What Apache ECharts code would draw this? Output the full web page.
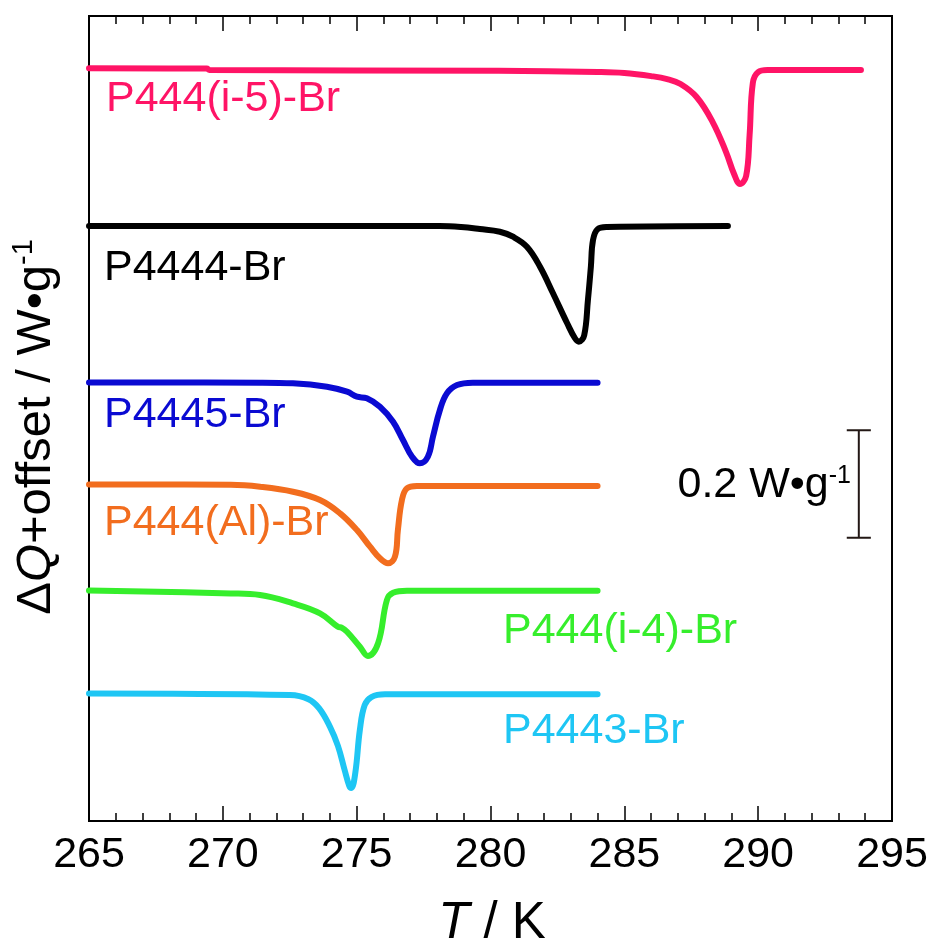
<!DOCTYPE html>
<html>
<head>
<meta charset="utf-8">
<script src="https://cdn.jsdelivr.net/npm/echarts@6/dist/echarts.min.js"></script>
<style>
html,body{margin:0;padding:0;background:#fff;}
#c{width:932px;height:946px;}
</style>
</head>
<body>
<div id="c"></div>
<script>
// ---- data (T in K, ΔQ + offset in W·g^-1) ----
var tI5 = [265, 269.4, 269.5, 280.3, 284.0, 285.0, 286.0, 286.6, 287.1, 287.7, 288.3, 288.8, 289.1, 289.32, 289.55, 289.68, 289.8, 290.0, 290.35, 293.84];
var qI5 = [1.4025, 1.4020, 1.3995, 1.3980, 1.3956, 1.3937, 1.3880, 1.3825, 1.3732, 1.3490, 1.3024, 1.2465, 1.2055, 1.1869, 1.2018, 1.2782, 1.3751, 1.3956, 1.3993, 1.3993];

var t4444 = [265, 278.1, 278.9, 279.6, 280.35, 280.84, 281.36, 281.85, 282.33, 282.86, 283.15, 283.30, 283.50, 283.64, 283.75, 283.83, 284.01, 284.35, 288.87];
var q4444 = [1.1086, 1.1086, 1.1068, 1.1030, 1.0980, 1.0887, 1.0701, 1.0328, 0.9838, 0.9279, 0.9000, 0.8931, 0.9050, 0.9708, 1.0328, 1.0825, 1.1030, 1.1068, 1.1086];

var t4445 = [265, 271.39, 272.62, 273.89, 274.64, 275.01, 275.38, 275.87, 276.36, 276.73, 277.07, 277.36, 277.66, 277.85, 278.11, 278.37, 278.75, 279.34, 284.0];
var q4445 = [0.8170, 0.8167, 0.8155, 0.8092, 0.7999, 0.7906, 0.7876, 0.7720, 0.7440, 0.7099, 0.6788, 0.6665, 0.6788, 0.7161, 0.7658, 0.7969, 0.8124, 0.8167, 0.8167];

var tAl = [265, 270.3, 271.39, 272.62, 273.63, 274.38, 275.01, 275.50, 275.87, 276.17, 276.43, 276.54, 276.69, 276.88, 277.25, 284.0];
var qAl = [0.6270, 0.6265, 0.6229, 0.6136, 0.5981, 0.5733, 0.5422, 0.5111, 0.4895, 0.4802, 0.4925, 0.5422, 0.5981, 0.6199, 0.6242, 0.6242];

var tI4 = [265, 270.3, 271.39, 272.62, 273.63, 274.30, 274.45, 274.64, 275.12, 275.42, 275.80, 276.13, 276.36, 276.88, 284.0];
var qI4 = [0.4295, 0.4240, 0.4211, 0.4056, 0.3870, 0.3620, 0.3600, 0.3527, 0.3248, 0.3074, 0.3311, 0.4118, 0.4254, 0.4291, 0.4291];

var t4443 = [265, 272.51, 273.2, 273.6, 274.0, 274.3, 274.55, 274.72, 274.80, 274.95, 275.12, 275.30, 275.55, 276.06, 284.0];
var q4443 = [0.2376, 0.2348, 0.2270, 0.2100, 0.1760, 0.1400, 0.0950, 0.0660, 0.0615, 0.0900, 0.1700, 0.2160, 0.2310, 0.2361, 0.2361];

var seriesNames = ['P444(i-5)-Br', 'P4444-Br', 'P4445-Br', 'P444(Al)-Br', 'P444(i-4)-Br', 'P4443-Br'];
var xTicks = [265, 270, 275, 280, 285, 290, 295];

// scale bar (0.2 W·g^-1)
var scaleBarT = [293.31, 294.21, 293.76, 293.76, 293.31, 294.21];
var scaleBarQ = [0.728, 0.728, 0.728, 0.528, 0.528, 0.528];
var scaleBarText = '0.2 W•g';

// ---- build ----
function pairs(t, q) { return t.map(function (v, i) { return [v, q[i]]; }); }
var colors = ['#ff1466', '#000000', '#0a0ad2', '#f26d1e', '#36ee2c', '#1ec6f4'];
var dataSets = [pairs(tI5, qI5), pairs(t4444, q4444), pairs(t4445, q4445), pairs(tAl, qAl), pairs(tI4, qI4), pairs(t4443, q4443)];
var FONT = '"Liberation Sans", Arial, Helvetica, sans-serif';

var series = dataSets.map(function (d, i) {
  return {
    name: seriesNames[i], type: 'line', data: d, showSymbol: false, symbol: 'none',
    smooth: 0.4,
    lineStyle: { color: colors[i], width: 6, cap: 'round', join: 'round' },
    xAxisIndex: 0, yAxisIndex: 0, z: 3, silent: true
  };
});
series.push({
  type: 'line', data: pairs(scaleBarT, scaleBarQ), showSymbol: false, symbol: 'none',
  lineStyle: { color: '#231815', width: 2 }, z: 4, silent: true
});

var labelPos = [
  { x: 106, y: 99, c: 0 },
  { x: 104, y: 268, c: 1 },
  { x: 104, y: 415, c: 2 },
  { x: 104, y: 523, c: 3 },
  { x: 503, y: 631, c: 4 },
  { x: 503, y: 731, c: 5 }
];
var graphics = labelPos.map(function (p) {
  return {
    type: 'text', x: p.x, y: p.y, silent: true, z: 10,
    style: { text: seriesNames[p.c], fill: colors[p.c], fontSize: 43, fontFamily: FONT,
      align: 'left', verticalAlign: 'middle', textAlign: 'left', textVerticalAlign: 'middle' }
  };
});
graphics.push({
  type: 'text', x: 851, y: 485, silent: true, z: 10,
  style: {
    text: scaleBarText + '{s|-1}', fill: '#000', fontSize: 43, fontFamily: FONT,
    align: 'right', verticalAlign: 'middle', textAlign: 'right', textVerticalAlign: 'middle',
    rich: { s: { fontSize: 25, lineHeight: 25, verticalAlign: 'top', fontFamily: FONT, fill: '#000' } }
  }
});
graphics.push({
  type: 'text', x: 36, y: 427, rotation: Math.PI / 2, silent: true, z: 10,
  style: {
    text: '{n|Δ}{q|Q}{n|+offset / W•g}{s|-1}', fill: '#000', fontSize: 49, fontFamily: FONT,
    align: 'center', verticalAlign: 'middle', textAlign: 'center', textVerticalAlign: 'middle',
    rich: {
      n: { fontSize: 49, lineHeight: 53, fontFamily: FONT, fill: '#000' },
      q: { fontSize: 49, lineHeight: 53, fontStyle: 'italic', fontFamily: FONT, fill: '#000' },
      s: { fontSize: 29, lineHeight: 29, verticalAlign: 'top', fontFamily: FONT, fill: '#000' }
    }
  }
});
graphics.push({
  type: 'text', x: 492, y: 924, silent: true, z: 10,
  style: {
    text: '{i|T}{n| / K}', fill: '#000', fontSize: 51, fontFamily: FONT,
    align: 'center', verticalAlign: 'middle', textAlign: 'center', textVerticalAlign: 'middle',
    rich: {
      i: { fontSize: 51, fontStyle: 'italic', fontFamily: FONT, fill: '#000' },
      n: { fontSize: 51, fontFamily: FONT, fill: '#000' }
    }
  }
});

var baseX = {
  type: 'value', min: xTicks[0], max: xTicks[xTicks.length - 1], interval: 5,
  axisLine: { show: true, lineStyle: { color: '#000', width: 2 } },
  axisTick: { show: true, inside: true, length: 15, lineStyle: { color: '#000', width: 1.5 } },
  minorTick: { show: true, splitNumber: 5, length: 8, lineStyle: { color: '#000', width: 1.5 } },
  splitLine: { show: false }, minorSplitLine: { show: false }
};
var option = {
  animation: false,
  backgroundColor: '#fff',
  grid: { left: 89, right: 40, top: 16, bottom: 125, show: true, borderColor: '#000', borderWidth: 2, backgroundColor: 'transparent' },
  xAxis: [
    Object.assign({}, baseX, { position: 'bottom',
      axisLabel: { show: true, fontSize: 43, fontFamily: FONT, color: '#000', margin: 13,
        formatter: function (v) { return xTicks.indexOf(v) >= 0 ? String(v) : ''; } } }),
    Object.assign({}, baseX, { position: 'top', axisLabel: { show: false } })
  ],
  yAxis: [{
    type: 'value', min: 0, max: 1.5,
    axisLine: { show: false }, axisTick: { show: false }, axisLabel: { show: false }, splitLine: { show: false }
  }],
  series: series,
  graphic: graphics
};
var chart = echarts.init(document.getElementById('c'), null, { renderer: 'canvas' });
chart.setOption(option);
</script>
</body>
</html>
